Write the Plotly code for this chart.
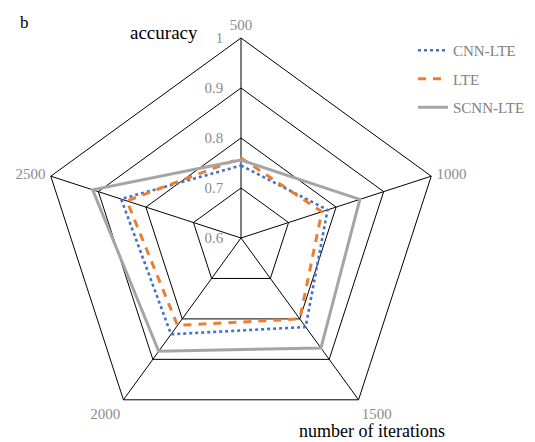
import plotly.graph_objects as go

# Iteration counts on the angular axis
iterations = ["500", "1000", "1500", "2000", "2500"]

# Accuracy per iteration count
cnn_lte = [0.745, 0.782, 0.82, 0.838, 0.852]
lte = [0.76, 0.77, 0.80, 0.816, 0.84]
scnn_lte = [0.756, 0.85, 0.872, 0.88, 0.912]

radial_ticks = [0.6, 0.7, 0.8, 0.9, 1.0]
radial_labels = ["0.6", "0.7", "0.8", "0.9", "1"]

SERIF = "Liberation Serif, Times New Roman, serif"
NBSP = "\u00a0"


def closed(values):
    return list(values) + [values[0]]


def left_of_axis(label):
    # trailing no-break spaces keep the digits clear of the vertical spoke
    return label + NBSP * 4


fig = go.Figure()
series = [
    ("CNN-LTE", cnn_lte, "#4472C4", "dot", 2.6),
    ("LTE", lte, "#ED7D31", "8px,7px", 3),
    ("SCNN-LTE", scnn_lte, "#A5A5A5", "solid", 3),
]
for name, vals, color, dash, width in series:
    fig.add_trace(go.Scatterpolar(
        r=closed(vals),
        theta=closed(iterations),
        mode="lines",
        name=name,
        legendgroup=name,
        line=dict(color=color, dash=dash, width=width),
    ))

W, H = 535, 442
cx, cy, R = 241, 238, 200

fig.update_layout(
    width=W, height=H,
    margin=dict(l=0, r=0, t=0, b=0),
    paper_bgcolor="white",
    plot_bgcolor="white",
    font=dict(family=SERIF, color="#808080", size=15),
    polar=dict(
        domain=dict(x=[(cx - R) / W, (cx + R) / W],
                    y=[1 - (cy + R) / H, 1 - (cy - R) / H]),
        gridshape="linear",
        bgcolor="white",
        angularaxis=dict(
            direction="clockwise",
            rotation=90,
            categoryorder="array",
            categoryarray=iterations,
            showline=True,
            linecolor="black",
            linewidth=1,
            showgrid=True,
            gridcolor="black",
            gridwidth=1,
            ticks="outside",
            ticklen=2,
            tickcolor="rgba(0,0,0,0)",
            tickfont=dict(family=SERIF, color="#8c8c8c", size=15),
        ),
        radialaxis=dict(
            range=[0.6, 1.0],
            angle=90,
            tickangle=90,
            side="counterclockwise",
            tickvals=radial_ticks,
            ticktext=[left_of_axis(t) for t in radial_labels],
            showline=False,
            showgrid=True,
            gridcolor="black",
            gridwidth=1,
            ticks="",
            tickfont=dict(family=SERIF, color="#8c8c8c", size=15),
        ),
    ),
    legend=dict(
        x=413 / W, y=1 - 34 / H, xanchor="left", yanchor="top",
        font=dict(family=SERIF, color="#808080", size=15),
        bgcolor="rgba(0,0,0,0)",
        tracegroupgap=6,
    ),
    annotations=[
        dict(text="b", x=18, y=22, showarrow=False,
             font=dict(family=SERIF, size=17, color="black"),
             xanchor="left", yanchor="middle"),
        dict(text="accuracy", x=200, y=33, showarrow=False,
             font=dict(family=SERIF, size=19, color="black"),
             xanchor="right", yanchor="middle"),
        dict(text="number of iterations", x=297, y=431, showarrow=False,
             font=dict(family=SERIF, size=18, color="black"),
             xanchor="left", yanchor="middle"),
    ],
)

# Annotation positions are given in pixels; convert to paper fractions.
for a in fig.layout.annotations:
    a.xref = "paper"
    a.yref = "paper"
    a.x = a.x / W
    a.y = 1 - a.y / H

fig.write_html("out.html")
